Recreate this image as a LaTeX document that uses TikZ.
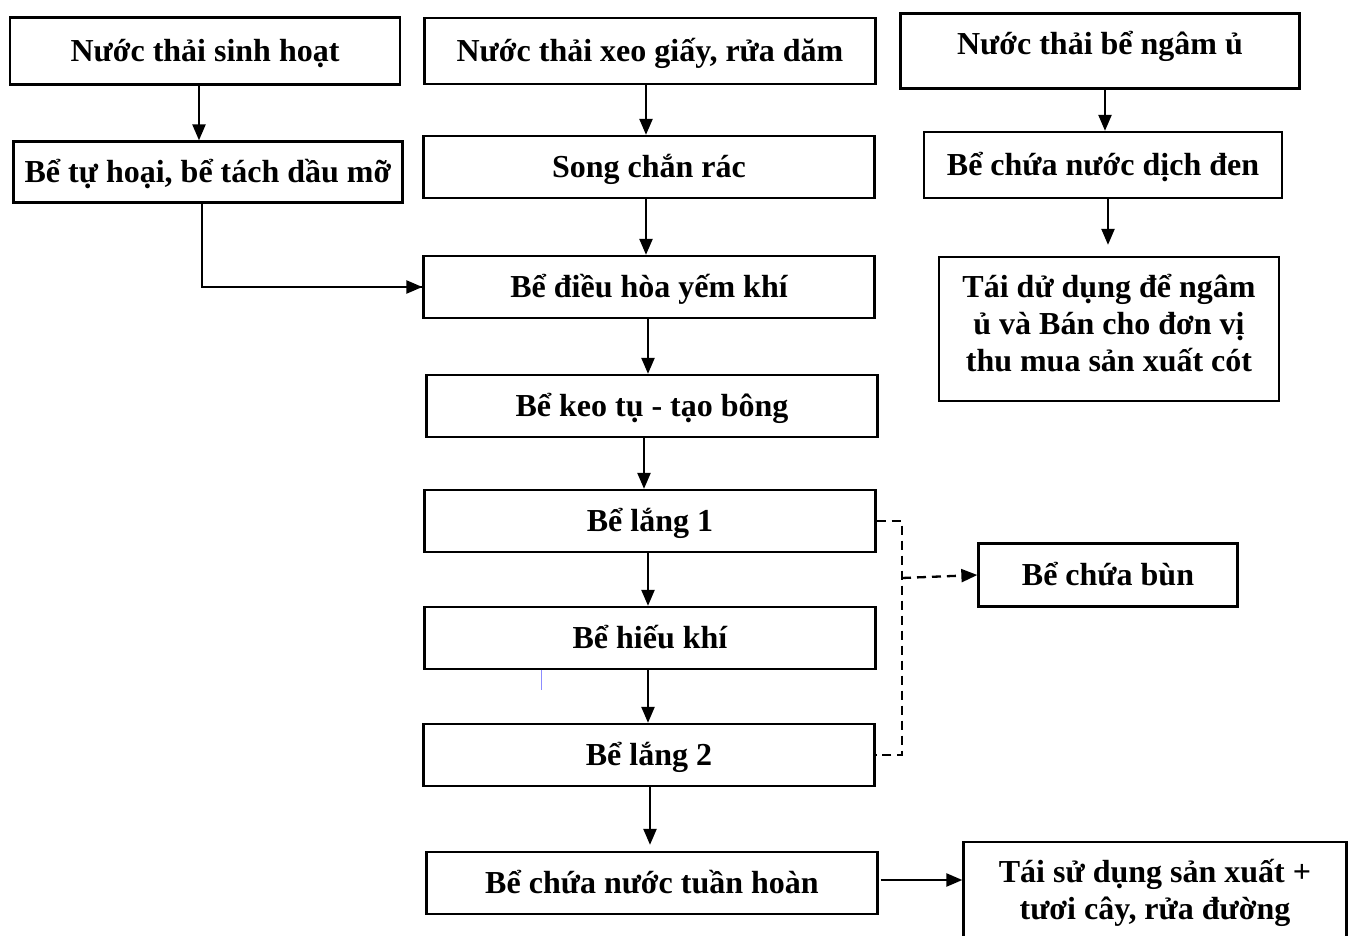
\documentclass[tikz,border=0pt]{standalone}
\usepackage{fontspec}
\setmainfont{Liberation Serif}
\usetikzlibrary{arrows.meta, positioning, calc}

\begin{document}
\begin{tikzpicture}[
    x=1pt, y=-1pt,
    base/.style={draw, line width=2.3pt, fill=white, align=center, inner sep=2pt,
        font=\fontsize{32pt}{37pt}\selectfont\bfseries},
    oneline/.style={base, text depth=2pt},
    widebox/.style={oneline, minimum width=451pt, minimum height=62pt},
    arrow/.style={-{Triangle[length=16pt, width=13pt]}, line width=2.3pt},
    dashedarrow/.style={-{Triangle[length=16pt, width=13pt]}, line width=2.3pt, dash pattern=on 9pt off 6pt}
]
    \useasboundingbox (0,0) rectangle (1352,936);
    \clip (0,0) rectangle (1352,936);

    % --- Sources ---
    \node[oneline, minimum width=390pt, minimum height=67pt] (sinhhoat) at (205,51) {Nước thải sinh hoạt};
    \node[widebox, minimum height=66pt] (xeogiay) at (650,51) {Nước thải xeo giấy, rửa dăm};
    \node[base, minimum width=399pt, minimum height=75pt, text depth=16pt] (ngamu) at (1100,51) {Nước thải bể ngâm ủ};

    % --- Pre-treatment ---
    \node[oneline, minimum width=389pt, minimum height=61pt] (tuhoai) at (208,172) {Bể tự hoại, bể tách dầu mỡ};
    \node[widebox] (songchan) at (649,167) {Song chắn rác};
    \node[oneline, minimum width=358pt, minimum height=66pt] (dichden) at (1103,165) {Bể chứa nước dịch đen};
    \node[base, minimum width=340pt, minimum height=144pt, text depth=12pt] (taidung) at (1109,329) {Tái dử dụng để ngâm\\ủ và Bán cho đơn vị\\thu mua sản xuất cót};

    % --- Main line ---
    \node[widebox] (dieuhoa) at (649,287) {Bể điều hòa yếm khí};
    \node[widebox] (keotu) at (652,406) {Bể keo tụ - tạo bông};
    \node[widebox] (lang1) at (650,521) {Bể lắng 1};
    \node[widebox] (hieukhi) at (650,638) {Bể hiếu khí};
    \node[widebox] (lang2) at (649,755) {Bể lắng 2};
    \node[widebox] (tuanhoan) at (652,883) {Bể chứa nước tuần hoàn};
    \node[base, minimum width=383pt, minimum height=102pt] (taisd) at (1155,893) {Tái sử dụng sản xuất +\\tươi cây, rửa đường};
    \node[oneline, minimum width=259pt, minimum height=63pt] (bun) at (1108,575) {Bể chứa bùn};

    % --- Connectors ---
    \draw[arrow] ([xshift=-6pt]sinhhoat.south) -- ([xshift=-6pt]sinhhoat.south |- tuhoai.north);
    \draw[arrow] ([xshift=-4pt]xeogiay.south) -- ([xshift=-4pt]xeogiay.south |- songchan.north);
    \draw[arrow] ([xshift=5pt]ngamu.south) -- ([xshift=5pt]ngamu.south |- dichden.north);
    \draw[arrow, shorten >=11pt] ([xshift=5pt]dichden.south) -- ([xshift=5pt]dichden.south |- taidung.north);
    \draw[arrow] ([xshift=-3pt]songchan.south) -- ([xshift=-3pt]songchan.south |- dieuhoa.north);
    \draw[line width=1.2pt] ([xshift=-6pt]tuhoai.south) |- (dieuhoa.west);
    \draw[arrow] (tuhoai.south |- dieuhoa.west) ++(-6pt,0) -- (dieuhoa.west);
    \draw[arrow] ([xshift=-1pt]dieuhoa.south) -- ([xshift=-1pt]dieuhoa.south |- keotu.north);
    \draw[arrow] ([xshift=-8pt]keotu.south) -- ([xshift=-8pt]keotu.south |- lang1.north);
    \draw[arrow] ([xshift=-2pt]lang1.south) -- ([xshift=-2pt]lang1.south |- hieukhi.north);
    \draw[arrow] ([xshift=-2pt]hieukhi.south) -- ([xshift=-2pt]hieukhi.south |- lang2.north);
    \draw[arrow, shorten >=6pt] ([xshift=1pt]lang2.south) -- ([xshift=1pt]lang2.south |- tuanhoan.north);
    \draw[arrow, shorten <=2pt] ([yshift=3pt]tuanhoan.east) -- ([yshift=3pt]tuanhoan.east -| taisd.west);

    % sludge
    \coordinate (split) at (902,578);
    \draw[line width=2.3pt, dash pattern=on 9pt off 6pt] (lang1.east) -- (lang1.east -| split) -- (lang2.east -| split) -- (lang2.east);
    \draw[dashedarrow] (split) -- (bun.west);

    % stray mark
    \draw[blue!45, line width=1pt] (541,670) -- (541,690);
\end{tikzpicture}
\end{document}
